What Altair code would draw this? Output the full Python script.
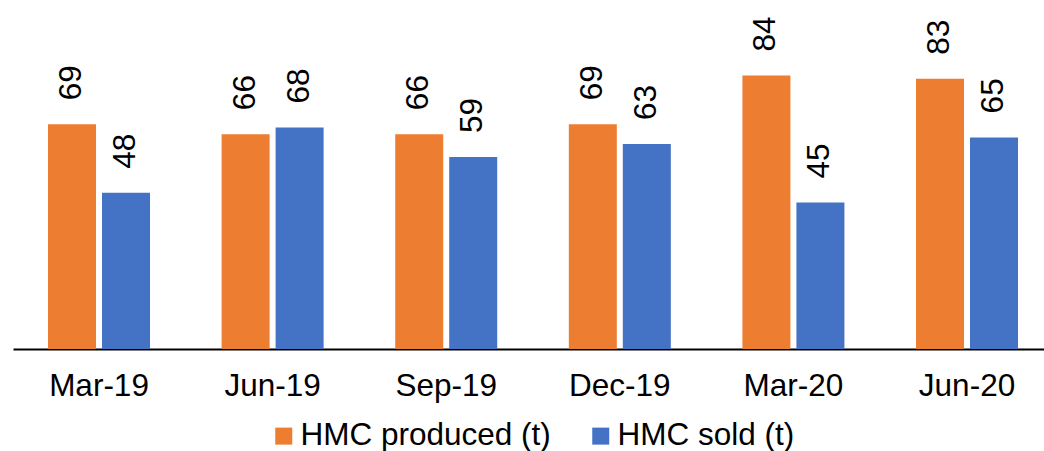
import altair as alt
import pandas as pd

periods = ["Mar-19", "Jun-19", "Sep-19", "Dec-19", "Mar-20", "Jun-20"]
produced = [69, 66, 66, 69, 84, 83]
sold = [48, 68, 59, 63, 45, 65]
series_names = ["HMC produced (t)", "HMC sold (t)"]
colors = ["#ED7D31", "#4472C4"]

rows = []
for p, a, b in zip(periods, produced, sold):
    rows.append({"period": p, "series": series_names[0], "value": a})
    rows.append({"period": p, "series": series_names[1], "value": b})
df = pd.DataFrame(rows)

FONT = "Liberation Sans"
FS = 31.5

x = alt.X(
    "period:N",
    sort=periods,
    scale=alt.Scale(paddingInner=0.4124, paddingOuter=0.1757, align=0.574),
    axis=alt.Axis(
        title=None, labelAngle=0, labelFontSize=FS, labelFont=FONT,
        labelColor="#000", labelPadding=21, ticks=False, domainColor="#000",
        domainWidth=2, labelBaseline="top", grid=False,
    ),
)
xo = alt.XOffset("series:N", sort=series_names,
                 scale=alt.Scale(paddingInner=0.111, paddingOuter=0))
y = alt.Y("value:Q", scale=alt.Scale(domain=[0, 107.2], nice=False, zero=True), axis=None)

bars = alt.Chart(df).mark_bar().encode(
    x=x, xOffset=xo, y=y,
    color=alt.Color(
        "series:N", sort=series_names,
        scale=alt.Scale(domain=series_names, range=colors),
        legend=alt.Legend(
            title=None, orient="none", legendX=255, legendY=420,
            direction="horizontal", symbolType="square", symbolSize=289,
            labelFontSize=FS, labelFont=FONT, labelColor="#000",
            columnPadding=34, labelOffset=1, padding=0, symbolStrokeWidth=0,
            labelLimit=400,
        ),
    ),
)

labels = alt.Chart(df).mark_text(
    angle=270, align="left", baseline="middle", dx=24,
    fontSize=FS, font=FONT, color="#000",
).encode(x=x, xOffset=xo, y=y, text=alt.Text("value:Q"))

chart = alt.layer(bars, labels).properties(
    width=1031, height=349,
    padding={"left": 13, "top": 0, "right": 0, "bottom": 102},
    autosize=alt.AutoSizeParams(type="none"),
).configure_view(stroke=None)

chart.save("out.html", embed_options={"renderer": "svg", "actions": False})
